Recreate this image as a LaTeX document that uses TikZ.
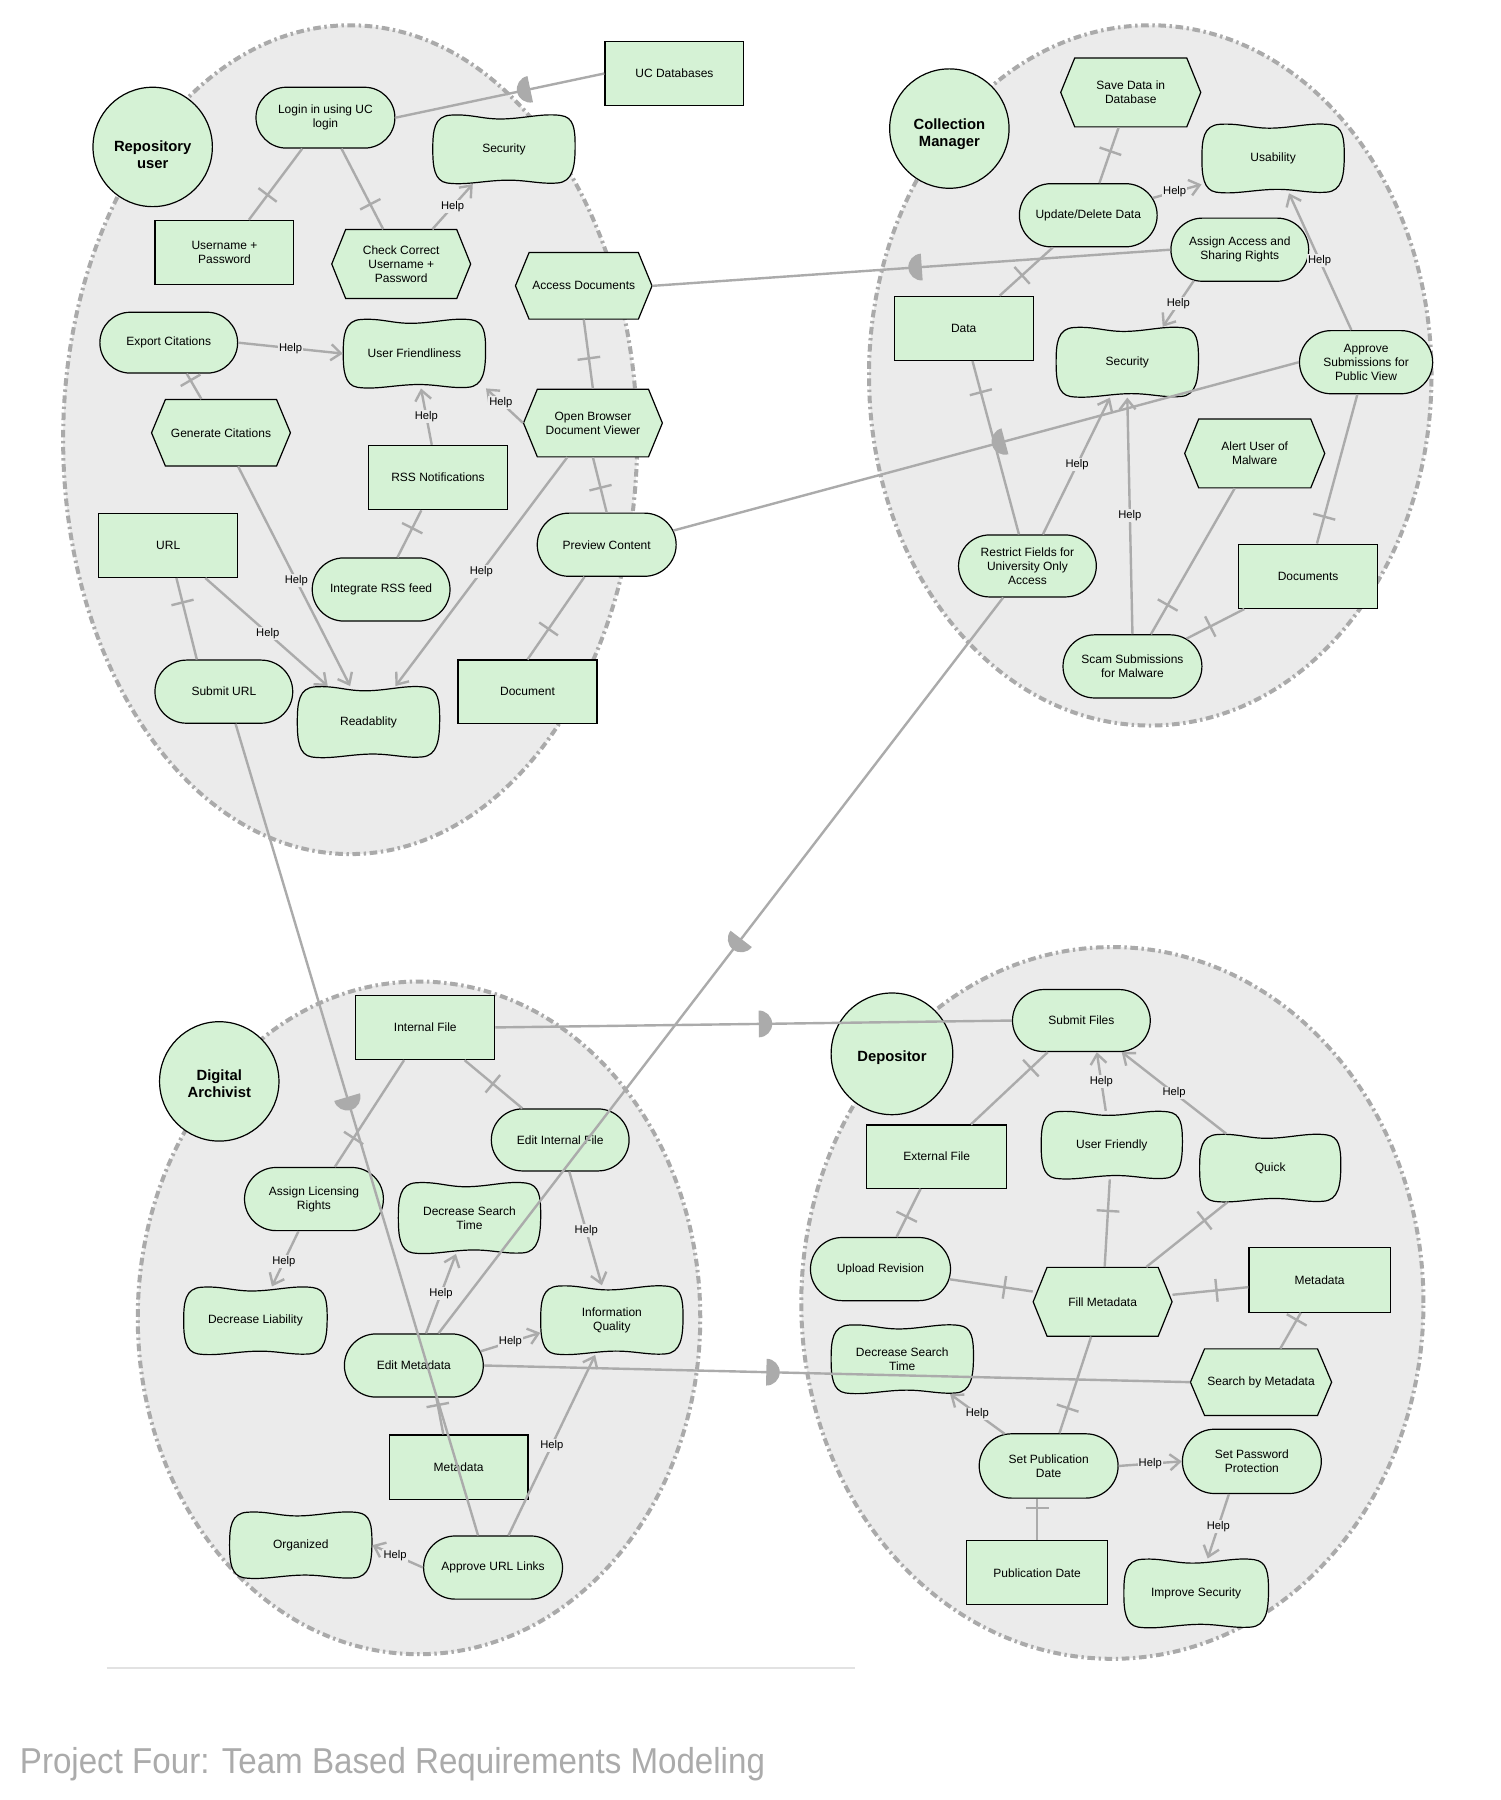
\documentclass[tikz,border=0pt]{standalone}
\usepackage{fontspec}
\setmainfont{Liberation Sans}
\newfontfamily\titlefont[FakeStretch=0.92]{Liberation Sans}
\usetikzlibrary{shapes.misc, arrows.meta, decorations.markings}
\definecolor{ngreen}{HTML}{D5F2D5}
\definecolor{ellfill}{HTML}{EBEBEB}
\definecolor{ellline}{HTML}{AAAAAA}
\definecolor{linkc}{HTML}{ABABAB}
\definecolor{titlec}{HTML}{ABABAB}
\definecolor{rulec}{HTML}{E2E2E2}
\newcommand\nodefont{\fontsize{6}{6.9}\selectfont}
\newcommand\actfont{\fontsize{7.4}{8.6}\selectfont\bfseries}
\newcommand\lblfont{\fontsize{5.6}{6.5}\selectfont}
\def\uu{0.5738pt}
\tikzset{
  base/.style={inner sep=0pt, align=center, font=\nodefont},
  goal/.style={base, rounded rectangle, draw=black, fill=ngreen, line width=0.6pt},
  res/.style={base, rectangle, draw=black, fill=ngreen, line width=0.6pt},
  txtbox/.style={base, rectangle},
  shapeline/.style={draw=black, fill=ngreen, line width=0.6pt},
  actor/.style={circle, draw=black, fill=ngreen, line width=0.6pt, inner sep=0pt},
  actlbl/.style={inner sep=0pt, align=center, font=\actfont},
  boundary/.style={draw=ellline, fill=ellfill, line width=2pt, dash pattern=on 3.8pt off 1.8pt on 1.2pt off 1.8pt},
  link/.style={draw=linkc, line width=1.2pt},
  decomp/.style={link, postaction={decorate}, decoration={markings, mark=at position #1 with {\draw[linkc, line width=1.2pt] (0pt,-5.7pt) -- (0pt,5.7pt);}}},
  decomp/.default=0.5,
  help/.style={link, -{Straight Barb[length=5pt, width=8pt]}},
  depf/.style={link, postaction={decorate}, decoration={markings, mark=at position #1 with {\fill[linkc] (0pt,-6.7pt) arc[start angle=-90, end angle=90, radius=6.7pt] -- cycle;}}},
  depb/.style={link, postaction={decorate}, decoration={markings, mark=at position #1 with {\fill[linkc] (0pt,6.7pt) arc[start angle=90, end angle=270, radius=6.7pt] -- cycle;}}},
  lbl/.style={font=\lblfont, fill=ellfill, inner sep=0.6pt},
}
\newcommand\goalN[6]{\node[goal, minimum width={#4*\uu}, minimum height={#5*\uu}] (#1) at (#2,#3) {#6};}
\newcommand\resN[6]{\node[res, minimum width={#4*\uu}, minimum height={#5*\uu}] (#1) at (#2,#3) {#6};}
\newcommand\taskN[6]{%
  \begin{scope}[shift={(#2,#3)}, xscale=#4/2, yscale=#5/2]
    \path[shapeline] (-1,0) -- (-0.8,-1) -- (0.8,-1) -- (1,0) -- (0.8,1) -- (-0.8,1) -- cycle;
  \end{scope}
  \node[txtbox, minimum width={#4*\uu}, minimum height={#5*\uu}] (#1) at (#2,#3) {#6};}
\newcommand\softN[6]{%
  \begin{scope}[shift={(#2,#3)}, xscale=#4/2, yscale=#5/2]
    \path[shapeline] (-1,0) .. controls (-1,-0.55) and (-0.98,-0.96) .. (-0.75,-0.99)
      .. controls (-0.45,-1.03) and (-0.3,-0.86) .. (0,-0.88)
      .. controls (0.3,-0.9) and (0.55,-1.05) .. (0.8,-0.98)
      .. controls (0.98,-0.93) and (1,-0.6) .. (1,-0.1)
      .. controls (1,0.5) and (0.97,0.95) .. (0.75,0.98)
      .. controls (0.5,1.02) and (0.3,0.88) .. (0,0.9)
      .. controls (-0.3,0.92) and (-0.55,1.05) .. (-0.8,0.98)
      .. controls (-0.98,0.92) and (-1,0.5) .. (-1,0) -- cycle;
  \end{scope}
  \node[txtbox, minimum width={#4*\uu}, minimum height={#5*\uu}] (#1) at (#2,#3) {#6};}
\newcommand\actorN[6]{\node[actor, minimum size={2*#4*\uu}] (#1) at (#2,#3) {};
  \node[actlbl] (#1-t) at (#2,{#3+#6}) {#5};}

\begin{document}
\begin{tikzpicture}[x=0.5738pt, y=-0.5738pt]
\useasboundingbox (0,0) rectangle (1307,1568);
\fill[white] (0,0) rectangle (1307,1568);

% actor boundaries
\path[boundary] (305,383) ellipse [x radius={250*\uu}, y radius={361*\uu}];
\path[boundary] (1002,327) ellipse [x radius={245*\uu}, y radius={305*\uu}];
\path[boundary] (365,1148) ellipse [x radius={245*\uu}, y radius={293*\uu}];
\path[boundary] (969,1135) ellipse [x radius={271*\uu}, y radius={310*\uu}];

% ---- Repository user
\actorN{ru}{133}{128}{52}{Repository\\user}{7}
\goalN{login}{283.5}{102.5}{121}{53}{Login in using UC\\login}
\resN{ucdb}{587.5}{64}{121}{56}{UC Databases}
\softN{sec}{439}{130}{124}{60}{Security}
\resN{unpw}{195.5}{220}{121}{56}{Username +\\Password}
\taskN{chk}{349.5}{230}{121}{60}{Check Correct\\Username +\\Password}
\taskN{accdoc}{508.5}{249}{119}{58}{Access Documents}
\goalN{expcit}{147}{298.5}{120}{53}{Export Citations}
\softN{userf}{361}{308}{124}{60}{User Friendliness}
\taskN{gencit}{192.5}{377}{121}{58}{Generate Citations}
\taskN{obdv}{516.5}{368.5}{121}{59}{Open Browser\\Document Viewer}
\resN{rss}{381.5}{416}{121}{56}{RSS Notifications}
\resN{url}{146.5}{475}{121}{56}{URL}
\goalN{irss}{332}{513.5}{120}{55}{Integrate RSS feed}
\goalN{prev}{528.5}{474.5}{121}{55}{Preview Content}
\goalN{suburl}{195}{602.5}{120}{55}{Submit URL}
\softN{readab}{321}{629}{124}{62}{Readablity}
\resN{doc}{459.5}{602.5}{121}{55}{Document}

% ---- Collection Manager
\actorN{cm}{827}{112}{52}{Collection\\Manager}{5}
\taskN{save}{985}{80.5}{122}{60}{Save Data in\\Database}
\softN{usab}{1109}{138}{124}{60}{Usability}
\goalN{upd}{948}{187.5}{120}{55}{Update/Delete Data}
\goalN{assign}{1080}{217.5}{120}{55}{Assign Access and\\Sharing Rights}
\resN{data}{839.5}{286}{121}{56}{Data}
\softN{sec2}{982}{315.5}{124}{61}{Security}
\goalN{appr}{1190}{315.5}{116}{55}{Approve\\Submissions for\\Public View}
\taskN{alert}{1093}{395}{122}{60}{Alert User of\\Malware}
\goalN{restr}{895}{493}{120}{54}{Restrict Fields for\\University Only\\Access}
\resN{docs}{1139.5}{502}{121}{56}{Documents}
\goalN{scam}{986.5}{580.5}{121}{55}{Scam Submissions\\for Malware}

% ---- Digital Archivist
\actorN{da}{191}{942}{52}{Digital\\Archivist}{2}
\resN{intf}{370.5}{895}{121}{56}{Internal File}
\goalN{eif}{488}{993}{120}{54}{Edit Internal File}
\goalN{alic}{273.5}{1044.5}{121}{55}{Assign Licensing\\Rights}
\softN{dst}{409}{1061}{124}{62}{Decrease Search\\Time}
\softN{declia}{222.5}{1150.5}{125}{59}{Decrease Liability}
\softN{infoq}{533}{1150}{124}{60}{Information\\Quality}
\goalN{editmd}{360.5}{1189.5}{121}{55}{Edit Metadata}
\resN{meta}{399.5}{1278}{121}{56}{Metadata}
\softN{org}{262}{1346}{124}{58}{Organized}
\goalN{aurl}{429.5}{1365.5}{121}{55}{Approve URL Links}

% ---- Depositor
\actorN{dep}{777}{918}{53}{Depositor}{3}
\goalN{subf}{942}{889}{120}{54}{Submit Files}
\resN{extf}{816}{1007.5}{122}{55}{External File}
\softN{uf}{968.5}{997.5}{123}{59}{User Friendly}
\softN{quick}{1106.5}{1017.5}{123}{59}{Quick}
\goalN{uprev}{767}{1105.5}{122}{55}{Upload Revision}
\taskN{fillmd}{960.5}{1134}{121}{60}{Fill Metadata}
\resN{meta2}{1149.5}{1115}{123}{56}{Metadata}
\softN{dst2}{786}{1184}{124}{60}{Decrease Search\\Time}
\taskN{sbm}{1098.5}{1204}{123}{58}{Search by Metadata}
\goalN{setpub}{913.5}{1277}{121}{56}{Set Publication\\Date}
\goalN{setpw}{1090.5}{1273}{121}{56}{Set Password\\Protection}
\resN{pubd}{903.5}{1370}{123}{56}{Publication Date}
\softN{impsec}{1042}{1388}{126}{60}{Improve Security}

% ---- links: Repository user
\draw[depb=0.645] (login.east) -- (ucdb.west);
\draw[decomp=0.35] (unpw) -- (login);
\draw[decomp=0.31] (chk) -- (login);
\draw[help] (chk) -- (sec) node[lbl,pos=0.5] (h1) {Help};
\draw[depb=0.52] (accdoc.east) -- (assign.west);
\draw[decomp=0.44] (obdv.north) -- (accdoc.south);
\draw[help] (expcit.east) -- (userf.west) node[lbl,pos=0.5] (h2) {Help};
\draw[decomp=0.74] (gencit) -- (expcit);
\draw[help] (rss) -- (userf) node[lbl,pos=0.5] (h3) {Help};
\draw[help] (obdv.west) -- (userf.south east) node[lbl,pos=0.6] (h4) {Help};
\draw[decomp=0.62] (irss) -- (rss);
\draw[decomp=0.45] (prev.north) -- (obdv.south);
\draw[depf=0.47] (appr.west) -- (prev.12);
\draw[help] (gencit) -- (readab) node[lbl,pos=0.52] (h5) {Help};
\draw[help] (url) -- (readab) node[lbl,pos=0.51] (h6) {Help};
\draw[decomp=0.3] (url) -- (suburl.130);
\draw[help] (obdv) -- (readab) node[lbl,pos=0.5] (h7) {Help};
\draw[decomp=0.37] (doc.north) -- (prev);
\draw[depf=0.46] (suburl.-70) -- (aurl.115);

% ---- links: Collection Manager
\draw[decomp=0.57] (upd) -- (save);
\draw[help] (upd.15) -- (usab.200) node[lbl,pos=0.45] (h8) {Help};
\draw[decomp=0.42] (data) -- (upd);
\draw[help] (assign.214) -- (sec2.45) node[lbl,pos=0.5] (h9) {Help};
\draw[help] (appr) -- (usab) node[lbl,pos=0.51] (h10) {Help};
\draw[decomp=0.18] (data) -- (restr);
\draw[help] (restr) -- (sec2) node[lbl,pos=0.51] (h11) {Help};
\draw[help] (scam.north) -- (sec2.south) node[lbl,pos=0.5] (h12) {Help};
\draw[decomp=0.8] (alert) -- (scam);
\draw[decomp=0.59] (docs) -- (scam);
\draw[decomp=0.18] (docs) -- (appr);
\draw[depf=0.464] (restr) -- (editmd);

% ---- links: Digital Archivist
\draw[depf=0.51] (intf.east) -- (subf.west);
\draw[decomp=0.73] (intf) -- (alic);
\draw[decomp=0.49] (intf) -- (eif);
\draw[help] (alic) -- (declia) node[lbl,pos=0.55] (h13) {Help};
\draw[help] (eif) -- (infoq) node[lbl,pos=0.52] (h14) {Help};
\draw[help] (editmd) -- (dst) node[lbl,pos=0.5] (h15) {Help};
\draw[help] (editmd.12) -- (infoq.190) node[lbl,pos=0.5] (h16) {Help};
\draw[depf=0.40] (editmd.east) -- (sbm.west);
\draw[decomp=0.8] (meta.115) -- (editmd.-55);
\draw[help] (aurl) -- (infoq) node[lbl,pos=0.5] (h17) {Help};
\draw[help] (aurl.west) -- (org.east) node[lbl,pos=0.55] (h18) {Help};

% ---- links: Depositor
\draw[decomp=0.78] (extf) -- (subf);
\draw[help] (uf.100) -- (subf.-64) node[lbl,pos=0.5] (h19) {Help};
\draw[help] (quick) -- (subf) node[lbl,pos=0.5] (h20) {Help};
\draw[decomp=0.42] (uprev) -- (extf);
\draw[decomp=0.64] (fillmd) -- (uf);
\draw[decomp=0.72] (fillmd) -- (quick);
\draw[decomp=0.66] (uprev) -- (fillmd);
\draw[decomp=0.42] (meta2) -- (fillmd);
\draw[decomp=0.26] (setpub) -- (fillmd);
\draw[decomp=0.8] (sbm) -- (meta2);
\draw[help] (setpub) -- (dst2) node[lbl,pos=0.5] (h21) {Help};
\draw[help] (setpub.east) -- (setpw.west) node[lbl,pos=0.5] (h22) {Help};
\draw[help] (setpw.235) -- (impsec) node[lbl,pos=0.5] (h23) {Help};
\draw[decomp=0.78] (pubd.north) -- (pubd.north |- setpub.south);

% ---- footer
\draw[rulec, line width=0.6pt] (93,1453) -- (745,1453);
\node[anchor=base west, inner sep=0pt, text=titlec, font=\titlefont\fontsize{18}{21}\selectfont] (title) at (17,1545) {Project Four: Team Based Requirements Modeling};
\end{tikzpicture}
\end{document}
